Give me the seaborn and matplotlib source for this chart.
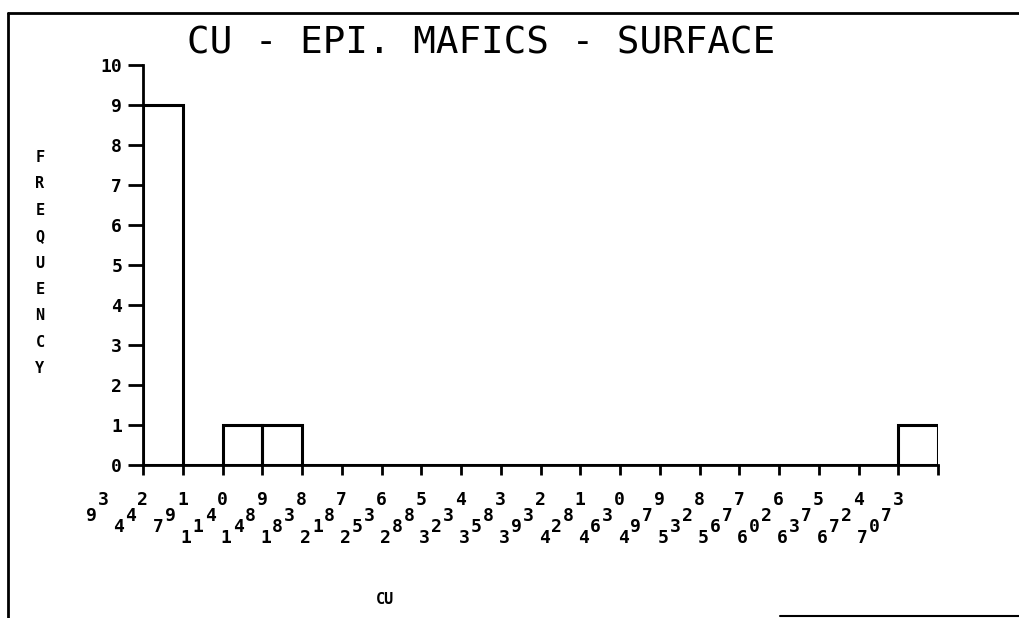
import matplotlib
matplotlib.use("Agg")
import matplotlib.pyplot as plt
import seaborn as sns
import numpy as np
from matplotlib.lines import Line2D

# ---- data ----
edge_labels = ["93", "442", "791", "1140", "1489", "1838", "2187", "2536", "2885",
               "3234", "3583", "3932", "4281", "4630", "4979", "5328", "5677",
               "6026", "6375", "6724", "7073"]
bin_edges = [93, 442, 791, 1140, 1489, 1838, 2187, 2536, 2885, 3234, 3583, 3932,
             4281, 4630, 4979, 5328, 5677, 6026, 6375, 6724, 7073]
counts = [9, 0, 1, 1, 0, 0, 0, 0, 0, 0, 0, 0, 0, 0, 0, 0, 0, 0, 0, 1]
y_ticks = [0, 1, 2, 3, 4, 5, 6, 7, 8, 9, 10]
title = "CU - EPI. MAFICS - SURFACE"
y_label = "FREQUENCY"
x_label = "CU"

sns.set_theme(style="white")
plt.rcParams["font.family"] = ["DejaVu Sans Mono", "DejaVu Sans"]
plt.rcParams["text.color"] = "black"
plt.rcParams["xtick.color"] = "black"
plt.rcParams["ytick.color"] = "black"
plt.rcParams["axes.labelcolor"] = "black"

W, H = 1020, 618
fig = plt.figure(figsize=(W / 100, H / 100), dpi=100)
ax = fig.add_axes([143 / W, 1 - 465 / H, (938 - 143) / W, (465 - 65) / H])

centers = [(a + b) / 2 for a, b in zip(bin_edges[:-1], bin_edges[1:])]
sns.histplot(x=centers, weights=counts, bins=bin_edges, fill=False,
             color="black", linewidth=2.2, ax=ax)

ax.set_xlim(bin_edges[0], bin_edges[-1])
ax.set_ylim(0, 10)
ax.set_ylabel("")
ax.set_xlabel("")
for s in ["top", "right"]:
    ax.spines[s].set_visible(False)
for s in ["left", "bottom"]:
    ax.spines[s].set_linewidth(2)
    ax.spines[s].set_color("black")

ax.set_yticks(y_ticks)
ax.set_yticklabels([str(v) for v in y_ticks], fontsize=13, fontweight="bold")
ax.tick_params(axis="y", direction="out", length=11, width=2, pad=4, left=True)
ax.set_xticks(bin_edges)
ax.set_xticklabels([])
ax.tick_params(axis="x", direction="out", length=7, width=2, bottom=True)

# staggered plotter-style x labels
for e, lab in zip(bin_edges, edge_labels):
    for j, ch in enumerate(reversed(lab)):
        if j == 0:
            dx, dy = -40, -35
        else:
            dx = -40 - 12 - (j - 1) * 12
            dy = -35 - 16 - (j - 1) * 11
        ax.annotate(ch, xy=(e, 0), xycoords="data", xytext=(dx, dy),
                    textcoords="offset pixels", ha="center", va="center",
                    fontsize=13, fontweight="bold", annotation_clip=False)

fig.text(481 / W, 1 - 43 / H, title, ha="center", va="center", fontsize=27)
fig.text(40 / W, 1 - 263 / H, "\n".join(y_label), ha="center", va="center",
         fontsize=11, fontweight="bold", linespacing=1.95)
fig.text(385 / W, 1 - 600 / H, x_label, ha="center", va="center", fontsize=11,
         fontweight="bold")

# page border of the scanned plot
fig.add_artist(Line2D([8 / W, 8 / W], [0, 1 - 13 / H], transform=fig.transFigure,
                      color="black", lw=2))
fig.add_artist(Line2D([8 / W, 1], [1 - 13 / H, 1 - 13 / H], transform=fig.transFigure,
                      color="black", lw=2))
fig.add_artist(Line2D([780 / W, 1], [1 - 616 / H, 1 - 616 / H], transform=fig.transFigure,
                      color="black", lw=1.5))

fig.savefig("out.png", dpi=100, facecolor="white")
